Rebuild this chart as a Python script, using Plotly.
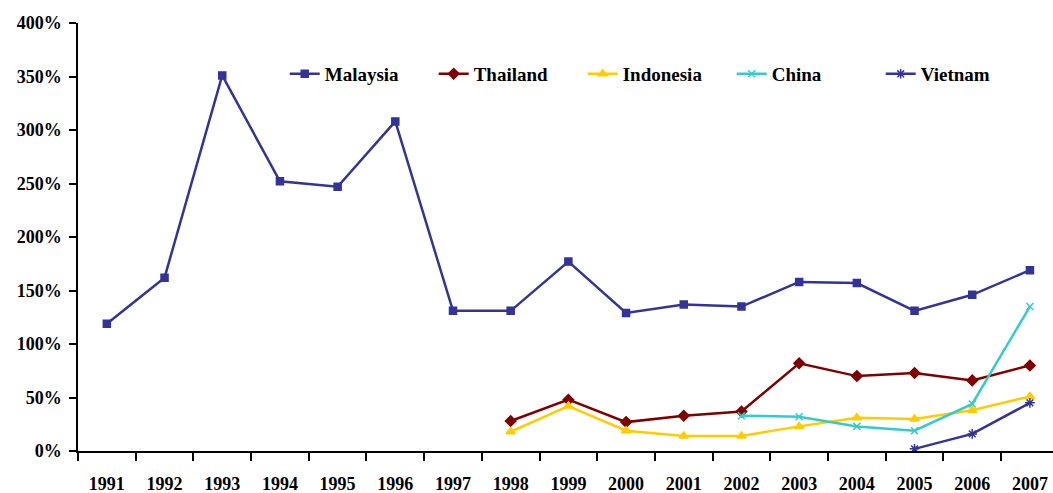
import plotly.graph_objects as go

years = [str(y) for y in range(1991, 2008)]

malaysia = [119, 162, 351, 252, 247, 308, 131, 131, 177, 129, 137, 135, 158, 157, 131, 146, 169]
thailand = [None] * 7 + [28, 48, 27, 33, 37, 82, 70, 73, 66, 80]
indonesia = [None] * 7 + [18, 42, 19, 14, 14, 23, 31, 30, 38, 51]
china = [None] * 11 + [33, 32, 23, 19, 44, 135]
vietnam = [None] * 14 + [2, 16, 45]

y_ticks = [0, 50, 100, 150, 200, 250, 300, 350, 400]
y_tick_labels = [f"{v}%" for v in y_ticks]

series = [
    ("Malaysia", malaysia, "#333399", "square", 7),
    ("Thailand", thailand, "#800000", "diamond", 8),
    ("Indonesia", indonesia, "#FFCC00", "triangle-up", 8),
    ("China", china, "#33CCCC", "x-thin-open", 7),
    ("Vietnam", vietnam, "#333399", "asterisk-open", 8),
]

font_family = "Liberation Serif"

fig = go.Figure()
for name, values, color, symbol, size in series:
    fig.add_trace(
        go.Scatter(
            x=years,
            y=values,
            mode="lines+markers",
            name=name,
            line=dict(color=color, width=2.5),
            marker=dict(symbol=symbol, size=size, color=color,
                        line=dict(color=color, width=1.5)),
        )
    )

fig.update_layout(
    width=1053,
    height=493,
    margin=dict(l=78, r=0, t=23, b=42),
    paper_bgcolor="white",
    plot_bgcolor="white",
    font=dict(family=font_family, size=18, color="black"),
    showlegend=True,
    legend=dict(
        orientation="h",
        x=0.212,
        y=0.881,
        xanchor="left",
        yanchor="middle",
        bgcolor="rgba(0,0,0,0)",
        font=dict(family=font_family, size=19, color="black", weight="bold"),
        itemwidth=30,
        entrywidth=104,
        traceorder="normal",
    ),
    xaxis=dict(
        type="category",
        range=[-0.5, 16.4],
        automargin=False,
        showgrid=False,
        showline=True,
        linecolor="black",
        linewidth=1.5,
        ticks="outside",
        tickson="boundaries",
        ticklen=8,
        tickcolor="black",
        tickwidth=1.5,
        ticklabelstandoff=16,
        tickfont=dict(family=font_family, size=18, weight="bold"),
        zeroline=False,
    ),
    yaxis=dict(
        range=[0, 400],
        automargin=False,
        tickvals=y_ticks,
        ticktext=y_tick_labels,
        showgrid=False,
        showline=True,
        linecolor="black",
        linewidth=1.5,
        ticks="outside",
        ticklen=7,
        tickcolor="black",
        tickwidth=1.5,
        ticklabelstandoff=4,
        tickfont=dict(family=font_family, size=18, weight="bold"),
        zeroline=False,
    ),
)

# drop the default page margin so the figure fills the window exactly
fig.write_html(
    "out.html",
    config={"displayModeBar": False},
    post_script="document.body.style.margin='0';document.body.style.overflow='hidden';",
)
